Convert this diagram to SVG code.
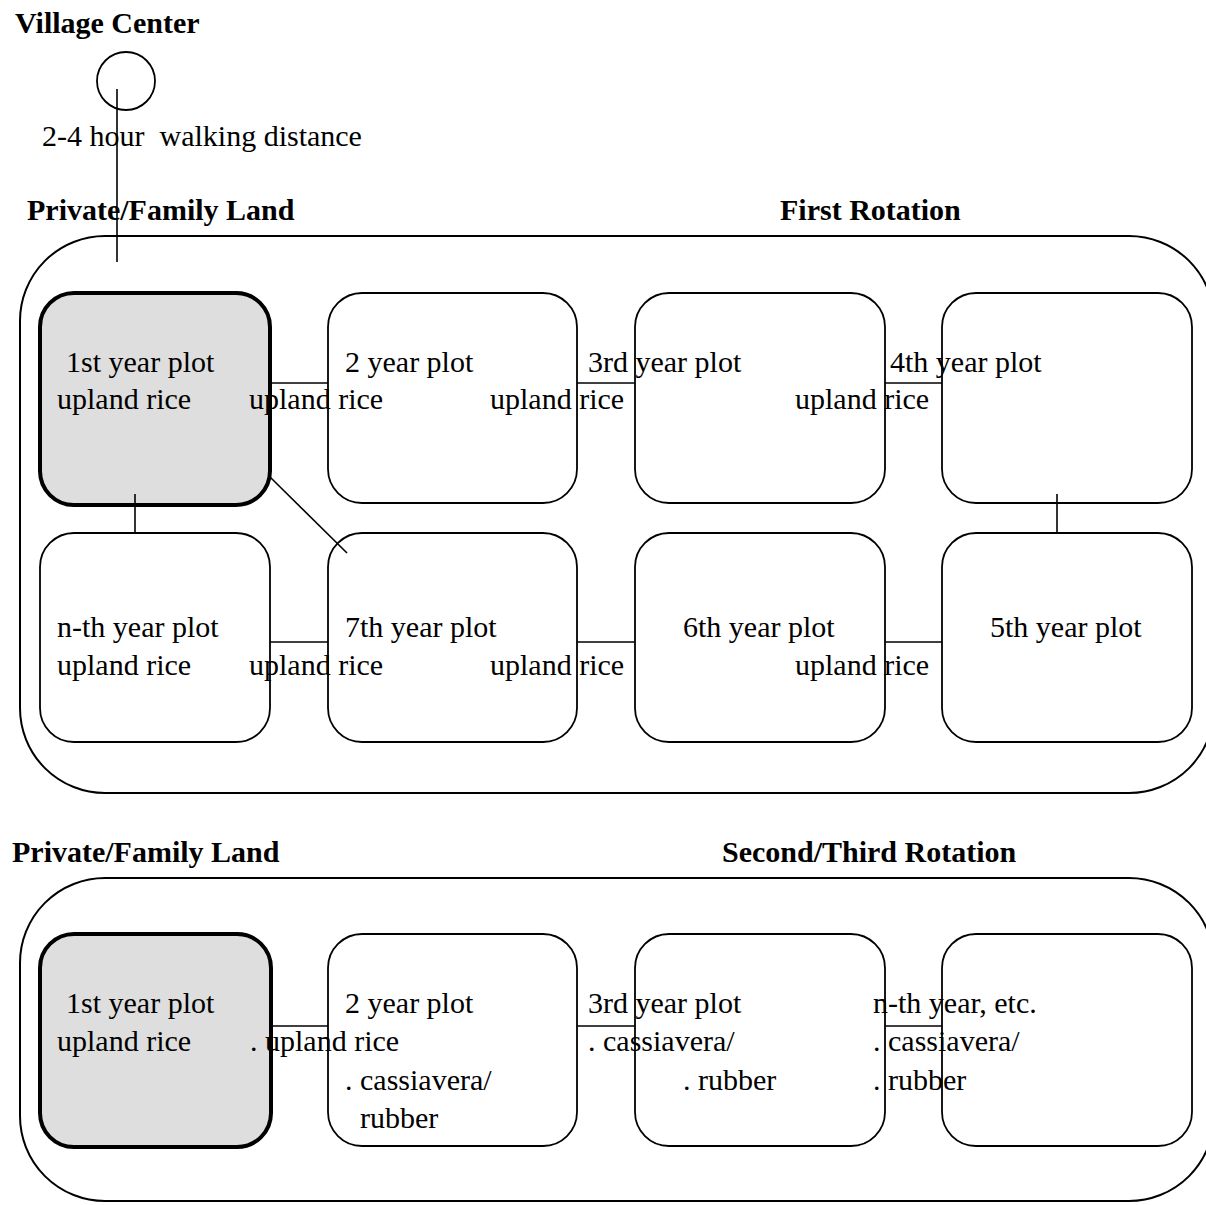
<svg xmlns="http://www.w3.org/2000/svg" width="1206" height="1205" viewBox="0 0 1206 1205">
<style>
text{font-family:"Liberation Serif","Times New Roman",serif;font-size:30px;fill:#000;white-space:pre}
.b{font-weight:bold}
.plot{fill:#fff;stroke:#000;stroke-width:1.8}
.first{fill:#dedede;stroke:#000;stroke-width:4}
.land{fill:none;stroke:#000;stroke-width:2}
.con line{stroke:#000;stroke-width:1.6}
</style>
<rect width="1206" height="1205" fill="#fff"/>
<g id="village">
<circle cx="126" cy="81" r="29" fill="none" stroke="#000" stroke-width="1.8"/>
<text x="15" y="33" class="b">Village Center</text>
<text x="42" y="146" xml:space="preserve">2-4 hour  walking distance</text>
</g>
<g id="land1">
<rect class="land" x="20" y="236" width="1194" height="557" rx="85" ry="85"/>
<text x="27" y="220" class="b">Private/Family Land</text>
<text x="780" y="220" class="b">First Rotation</text>
</g>
<g id="p1">
<rect class="first" x="40" y="293" width="230" height="212" rx="34"/>
<text x="66" y="372">1st year plot</text>
<text x="57" y="409">upland rice</text>
</g>
<g id="p2">
<rect class="plot" x="328" y="293" width="249" height="210" rx="34"/>
<text x="345" y="372">2 year plot</text>
<text x="249" y="409">upland rice</text>
</g>
<g id="p3">
<rect class="plot" x="635" y="293" width="250" height="210" rx="34"/>
<text x="588" y="372">3rd year plot</text>
<text x="490" y="409">upland rice</text>
</g>
<g id="p4">
<rect class="plot" x="942" y="293" width="250" height="210" rx="34"/>
<text x="890" y="372">4th year plot</text>
<text x="795" y="409">upland rice</text>
</g>
<g id="pn">
<rect class="plot" x="40" y="533" width="230" height="209" rx="34"/>
<text x="57" y="637">n-th year plot</text>
<text x="57" y="675">upland rice</text>
</g>
<g id="p7">
<rect class="plot" x="328" y="533" width="249" height="209" rx="34"/>
<text x="345" y="637">7th year plot</text>
<text x="249" y="675">upland rice</text>
</g>
<g id="p6">
<rect class="plot" x="635" y="533" width="250" height="209" rx="34"/>
<text x="683" y="637">6th year plot</text>
<text x="490" y="675">upland rice</text>
</g>
<g id="p5">
<rect class="plot" x="942" y="533" width="250" height="209" rx="34"/>
<text x="990" y="637">5th year plot</text>
<text x="795" y="675">upland rice</text>
</g>
<g id="land2">
<rect class="land" x="20" y="878" width="1194" height="323" rx="85" ry="85"/>
<text x="12" y="862" class="b">Private/Family Land</text>
<text x="722" y="862" class="b">Second/Third Rotation</text>
</g>
<g id="q1">
<rect class="first" x="40" y="934" width="231" height="213" rx="34"/>
<text x="66" y="1013">1st year plot</text>
<text x="57" y="1051">upland rice</text>
</g>
<g id="q2">
<rect class="plot" x="328" y="934" width="249" height="212" rx="34"/>
<text x="345" y="1013">2 year plot</text>
<text x="250" y="1051">. upland rice</text>
<text x="345" y="1090">. cassiavera/</text>
<text x="360" y="1128">rubber</text>
</g>
<g id="q3">
<rect class="plot" x="635" y="934" width="250" height="212" rx="34"/>
<text x="588" y="1013">3rd year plot</text>
<text x="588" y="1051">. cassiavera/</text>
<text x="683" y="1090">. rubber</text>
</g>
<g id="qn">
<rect class="plot" x="942" y="934" width="250" height="212" rx="34"/>
<text x="873" y="1013">n-th year, etc.</text>
<text x="873" y="1051">. cassiavera/</text>
<text x="873" y="1090">. rubber</text>
</g>
<g id="connectors" class="con">
<line x1="117" y1="89" x2="117" y2="262"/>
<line x1="270" y1="383" x2="328" y2="383"/>
<line x1="577" y1="383" x2="635" y2="383"/>
<line x1="885" y1="383" x2="942" y2="383"/>
<line x1="135" y1="494" x2="135" y2="533"/>
<line x1="1057" y1="494" x2="1057" y2="533"/>
<line x1="270" y1="477" x2="347" y2="553"/>
<line x1="270" y1="642" x2="328" y2="642"/>
<line x1="577" y1="642" x2="635" y2="642"/>
<line x1="885" y1="642" x2="942" y2="642"/>
<line x1="271" y1="1026" x2="328" y2="1026"/>
<line x1="577" y1="1026" x2="635" y2="1026"/>
<line x1="885" y1="1026" x2="942" y2="1026"/>
</g>
</svg>
